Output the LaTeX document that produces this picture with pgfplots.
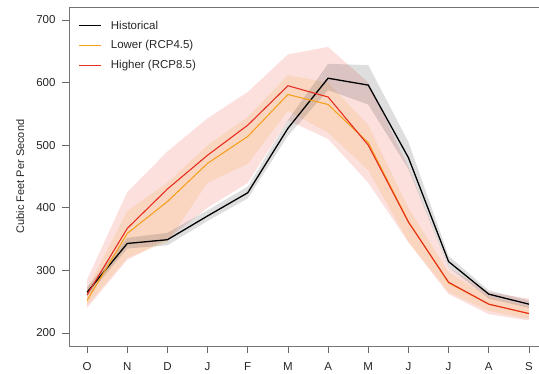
\documentclass[border=0pt]{standalone}
\usepackage{fontspec}
\setmainfont{Liberation Sans}
\usepackage{pgfplots}
\usepackage{pgfplotstable}
\pgfplotsset{compat=1.18}
\usepgfplotslibrary{fillbetween}
\definecolor{histc}{RGB}{0,0,0}
\definecolor{lowc}{RGB}{245,160,30}
\definecolor{highc}{RGB}{230,45,30}
\definecolor{txtc}{RGB}{38,38,38}
\pgfplotstableread{
m  h    hl   hu   l    ll   lu   r    rl   ru
0  265  258  273  252  244  270  261  240  285
1  343  335  352  359  320  395  367  317  425
2  349  340  360  410  345  440  430  350  490
3  387  379  396  471  440  500  484  400  543
4  424  415  434  514  470  545  532  440  585
5  527  515  540  581  555  612  595  540  645
6  607  588  630  565  520  600  577  510  657
7  596  565  628  504  460  532  500  440  600
8  480  462  505  378  345  400  377  345  465
9  314  305  323  280  265  297  281  262  305
10 262  255  268  246  235  258  246  230  265
11 246  240  252  231  222  242  231  220  255
}\data
\begin{document}
\begin{tikzpicture}
% legend (drawn first, absolute positions)
\fill[fill={rgb,255:red,0;green,0;blue,0}] (10pt,319.65pt) rectangle (31.7pt,320.95pt);
\fill[fill={rgb,255:red,245;green,160;blue,30}] (10pt,299.75pt) rectangle (31.7pt,300.85pt);
\fill[fill={rgb,255:red,230;green,45;blue,30}] (10pt,279.75pt) rectangle (31.7pt,280.85pt);
\node[anchor=west, inner sep=0pt, font=\fontsize{11.5}{13}\selectfont, text=txtc] at (41.7pt,320.3pt) {Historical};
\node[anchor=west, inner sep=0pt, font=\fontsize{11.5}{13}\selectfont, text=txtc] at (41.7pt,300.3pt) {Lower (RCP4.5)};
\node[anchor=west, inner sep=0pt, font=\fontsize{11.5}{13}\selectfont, text=txtc] at (41.7pt,280.3pt) {Higher (RCP8.5)};
\begin{axis}[
  at={(0pt,0pt)}, anchor=south west,
  scale only axis, width=470pt, height=339pt,
  xmin=-0.45, xmax=11.25, ymin=179.2, ymax=720.8,
  axis x line=box, axis y line=left,
  axis line style={black!55, line width=0.6pt},
  x axis line style={-}, y axis line style={-},
  tick align=outside, major tick length=7pt,
  tick style={black!60, line width=0.6pt},
  xtick={0,...,11},
  xticklabels={O,N,D,J,F,M,A,M,J,J,A,S},
  ytick={200,300,400,500,600,700},
  xtick pos=bottom, ytick pos=left,
  /pgf/number format/assume math mode=true,
  tick label style={font=\fontsize{11.5}{13}\selectfont, text=txtc},
  xticklabel style={yshift=-6pt},
  yticklabel style={xshift=-3pt},
  ylabel={Cubic Feet Per Second},
  ylabel style={at={(axis description cs:-0.104,0.5)}, anchor=center, font=\fontsize{11}{13}\selectfont, text=txtc},
]
\addplot[name path=ru, draw=none, forget plot] table[x=m,y=ru]{\data};
\addplot[name path=rl, draw=none, forget plot] table[x=m,y=rl]{\data};
\addplot[name path=lu, draw=none, forget plot] table[x=m,y=lu]{\data};
\addplot[name path=ll, draw=none, forget plot] table[x=m,y=ll]{\data};
\addplot[name path=hu, draw=none, forget plot] table[x=m,y=hu]{\data};
\addplot[name path=hl, draw=none, forget plot] table[x=m,y=hl]{\data};
\addplot[fill=highc, fill opacity=0.15, draw=none, forget plot] fill between[of=ru and rl];
\addplot[fill=lowc, fill opacity=0.15, draw=none, forget plot] fill between[of=lu and ll];
\addplot[fill=black, fill opacity=0.13, draw=none, forget plot] fill between[of=hu and hl];
\addplot[histc, line width=1.3pt, forget plot] table[x=m,y=h]{\data};
\addplot[lowc, line width=1.1pt, forget plot] table[x=m,y=l]{\data};
\addplot[highc, line width=1.1pt, forget plot] table[x=m,y=r]{\data};
\end{axis}
\pgfresetboundingbox
\path[use as bounding box] (-69pt,-28pt) rectangle (470pt,346pt);
\end{tikzpicture}
\end{document}
